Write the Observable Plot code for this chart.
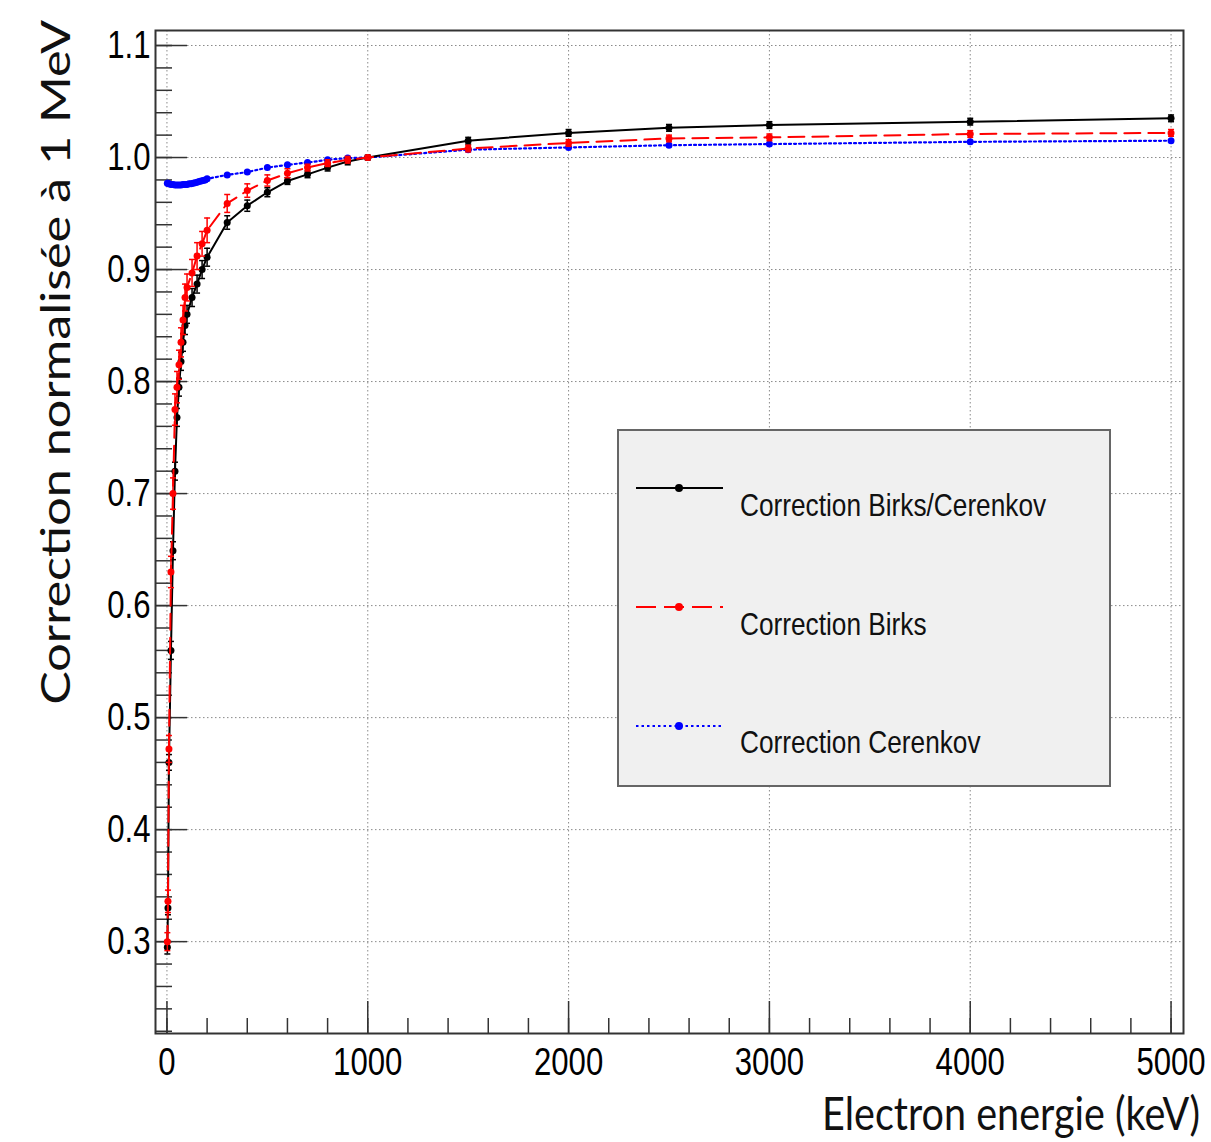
<!DOCTYPE html>
<html>
<head>
<meta charset="utf-8">
<script src="https://cdn.jsdelivr.net/npm/d3@7"></script>
<script src="https://cdn.jsdelivr.net/npm/@observablehq/plot@0.6"></script>
<style>
  body { margin: 0; background: #fff; }
  svg { display: block; }
</style>
</head>
<body>
<div id="chart"></div>
<script>
// ---- data ----
const energy = [2, 5, 10, 20, 30, 40, 50, 60, 70, 80, 90, 100, 125, 150, 175, 200,
  300, 400, 500, 600, 700, 800, 900, 1000, 1500, 2000, 2500, 3000, 4000, 5000];
const birksCerenkov = [0.295, 0.33, 0.46, 0.56, 0.649, 0.72, 0.768, 0.795, 0.818, 0.835, 0.850, 0.860, 0.875, 0.887, 0.900, 0.911,
  0.942, 0.957, 0.969, 0.979, 0.985, 0.991, 0.9965, 1.0, 1.015, 1.022, 1.0265, 1.029, 1.032, 1.035];
const birksCerenkovErr = [0.006, 0.006, 0.007, 0.008, 0.008, 0.008, 0.008, 0.008, 0.008, 0.008, 0.008, 0.008, 0.008, 0.008, 0.008, 0.008,
  0.006, 0.005, 0.004, 0.003, 0.003, 0.003, 0.003, 0.002, 0.003, 0.003, 0.003, 0.003, 0.003, 0.003];
const birks = [0.30, 0.336, 0.472, 0.63, 0.70, 0.775, 0.795, 0.815, 0.835, 0.855, 0.875, 0.884, 0.897, 0.912, 0.923, 0.935,
  0.959, 0.9705, 0.9795, 0.986, 0.991, 0.995, 0.998, 1.0, 1.008, 1.013, 1.017, 1.018, 1.021, 1.022];
const birksErr = [0.008, 0.010, 0.012, 0.014, 0.014, 0.014, 0.014, 0.013, 0.013, 0.013, 0.012, 0.012, 0.012, 0.012, 0.011, 0.011,
  0.008, 0.006, 0.005, 0.004, 0.003, 0.003, 0.003, 0.002, 0.003, 0.003, 0.003, 0.003, 0.003, 0.003];
const cerenkovEnergy = [2, 5, 10, 20, 30, 40, 50, 60, 70, 80, 90, 100, 110, 120, 130, 140, 150, 160, 170, 180, 190, 200,
  300, 400, 500, 600, 700, 800, 900, 1000, 1500, 2000, 2500, 3000, 4000, 5000];
const cerenkov = [0.977, 0.977, 0.9765, 0.976, 0.976, 0.9755, 0.9755, 0.9755, 0.9755, 0.976, 0.976, 0.976, 0.9765, 0.9765, 0.977, 0.9775, 0.978, 0.9785, 0.979, 0.9795, 0.980, 0.981,
  0.9845, 0.987, 0.991, 0.9935, 0.9955, 0.998, 0.9995, 1.0, 1.007, 1.009, 1.011, 1.012, 1.014, 1.015];

const seriesNames = ["Correction Birks/Cerenkov", "Correction Birks", "Correction Cerenkov"];
const seriesColors = ["#000000", "#ff0000", "#0000ff"];
const seriesDash = [null, "16,8", "2,3"];

const xMajorTicks = [0, 1000, 2000, 3000, 4000, 5000];
const xMinorTicks = d3.range(0, 26).map(i => i * 200);
const yMajorTicks = [0.3, 0.4, 0.5, 0.6, 0.7, 0.8, 0.9, 1.0, 1.1];
const yMinorTicks = d3.range(11, 56).map(i => +(i * 0.02).toFixed(2));

const xTitle = "Electron energie (keV)";
const yTitle = "Correction normalisée à 1 MeV";

// ---- rows ----
const blackRows = energy.map((E, i) => ({E, v: birksCerenkov[i], e: birksCerenkovErr[i]}));
const redRows = energy.map((E, i) => ({E, v: birks[i], e: birksErr[i]}));
const blueRows = cerenkovEnergy.map((E, i) => ({E, v: cerenkov[i]}));

const capSymbol = {
  draw(context, size) {
    const w = Math.sqrt(size / Math.PI);
    context.moveTo(-w, 0);
    context.lineTo(w, 0);
  }
};

const tickFont = "'Liberation Sans', Arial, Helvetica, sans-serif";
const titleFont = "Lato, 'Open Sans', sans-serif";
const gridStyle = {stroke: "#8a8a8a", strokeOpacity: 1, strokeWidth: 1, strokeDasharray: "1.5,2.5"};
const tickStyle = {stroke: "#333", strokeWidth: 1.5, text: null, label: null};

function errorMarks(rows, color) {
  return [
    Plot.ruleX(rows, {x: "E", y1: d => d.v - d.e, y2: d => d.v + d.e, stroke: color, strokeWidth: 1.5}),
    Plot.dot(rows, {x: "E", y: d => d.v - d.e, symbol: capSymbol, r: 3, stroke: color, strokeWidth: 1.5, fill: "none"}),
    Plot.dot(rows, {x: "E", y: d => d.v + d.e, symbol: capSymbol, r: 3, stroke: color, strokeWidth: 1.5, fill: "none"})
  ];
}

const plot = Plot.plot({
  width: 1211,
  height: 1142,
  marginTop: 30,
  marginRight: 28,
  marginBottom: 109,
  marginLeft: 155,
  style: {background: "white", fontFamily: tickFont, color: "#000"},
  x: {domain: [-57, 5062], label: null},
  y: {domain: [0.218, 1.1134], label: null},
  marks: [
    Plot.gridX(xMajorTicks, gridStyle),
    Plot.gridY(yMajorTicks, gridStyle),
    // inward ticks
    Plot.axisX(xMinorTicks, {...tickStyle, tickSize: 15, dy: -15}),
    Plot.axisX(xMajorTicks, {...tickStyle, tickSize: 32, dy: -32}),
    Plot.axisY(yMinorTicks, {...tickStyle, tickSize: 17, dx: 17}),
    Plot.axisY(yMajorTicks, {...tickStyle, tickSize: 32, dx: 32}),
    // tick labels
    Plot.axisX(xMajorTicks, {tickSize: 0, tickPadding: 15, fontSize: 38, label: null, tickFormat: d => String(d), fill: "#000"}),
    Plot.axisY(yMajorTicks, {tickSize: 0, tickPadding: 5, fontSize: 38, label: null, tickFormat: d3.format(".1f"), fill: "#000"}),
    // Cerenkov (blue dotted)
    Plot.line(blueRows, {x: "E", y: "v", stroke: seriesColors[2], strokeWidth: 2.2, strokeDasharray: seriesDash[2]}),
    Plot.dot(blueRows, {x: "E", y: "v", r: 3.5, fill: seriesColors[2]}),
    // Birks/Cerenkov (black solid)
    ...errorMarks(blackRows, seriesColors[0]),
    Plot.line(blackRows, {x: "E", y: "v", stroke: seriesColors[0], strokeWidth: 2}),
    Plot.dot(blackRows, {x: "E", y: "v", r: 3.5, fill: seriesColors[0]}),
    // Birks (red dashed)
    ...errorMarks(redRows, seriesColors[1]),
    Plot.line(redRows, {x: "E", y: "v", stroke: seriesColors[1], strokeWidth: 2, strokeDasharray: seriesDash[1]}),
    Plot.dot(redRows, {x: "E", y: "v", r: 3.5, fill: seriesColors[1]}),
    Plot.frame({stroke: "#333", strokeWidth: 2})
  ]
});

document.getElementById("chart").append(plot);
const svg = d3.select(plot);

// horizontal squeeze of tick labels (the reference text is horizontally condensed)
const SQ = 0.82;
svg.selectAll('g[aria-label="x-axis tick label"] text, g[aria-label="y-axis tick label"] text').each(function() {
  const t = this.getAttribute("transform") || "";
  this.setAttribute("transform", t + ` scale(${SQ},1)`);
});

// ---- legend ----
const legend = svg.append("g").attr("class", "legend");
legend.append("rect")
  .attr("x", 618).attr("y", 430).attr("width", 492).attr("height", 356)
  .attr("fill", "#f0f0f0").attr("stroke", "#666").attr("stroke-width", 2);
const rowY = [488, 607, 726];
const textY = [516, 635, 753];
seriesNames.forEach((name, i) => {
  legend.append("line")
    .attr("x1", 636).attr("x2", 723).attr("y1", rowY[i]).attr("y2", rowY[i])
    .attr("stroke", seriesColors[i]).attr("stroke-width", 2.2)
    .attr("stroke-dasharray", seriesDash[i] ? (i === 1 ? "20,8" : "2.5,3") : null);
  legend.append("circle").attr("cx", 679).attr("cy", rowY[i]).attr("r", 4).attr("fill", seriesColors[i]);
  legend.append("text")
    .attr("transform", `translate(740,${textY[i]}) scale(${SQ},1)`)
    .attr("text-anchor", "start")
    .attr("font-family", tickFont).attr("font-size", 32).attr("fill", "#111")
    .text(name);
});

// ---- axis titles ----
const yT = svg.append("text")
  .attr("text-anchor", "end")
  .attr("font-family", titleFont).attr("font-size", 41).attr("fill", "#111")
  .text(yTitle);
const yLen = yT.node().getComputedTextLength();
yT.attr("transform", `translate(70,20) rotate(-90) scale(${(685 / yLen).toFixed(4)},1)`);

const xT = svg.append("text")
  .attr("text-anchor", "end")
  .attr("font-family", titleFont).attr("font-size", 47).attr("fill", "#111")
  .text(xTitle);
const xLen = xT.node().getComputedTextLength();
xT.attr("transform", `translate(1200,1130) scale(${(378 / xLen).toFixed(4)},1)`);
</script>
</body>
</html>
